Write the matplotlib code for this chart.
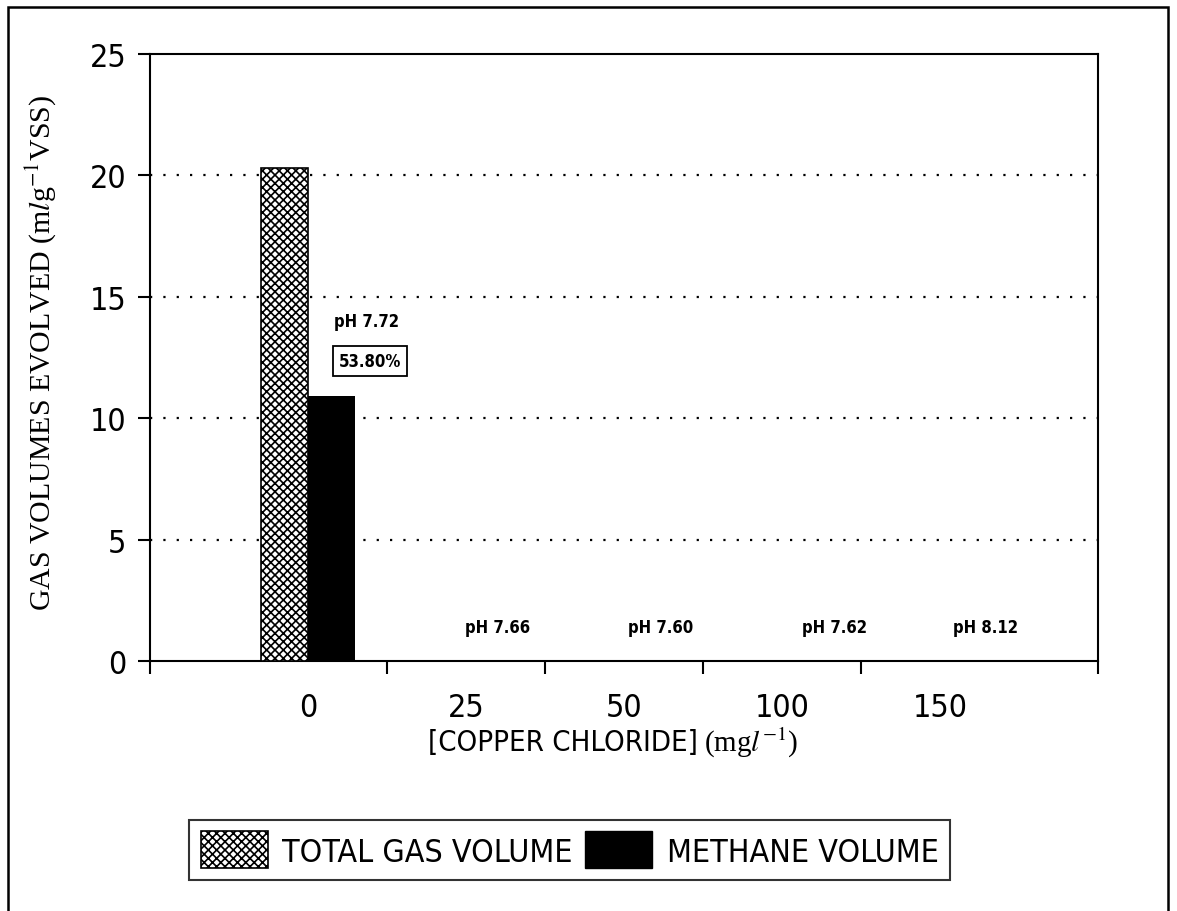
import numpy as np
import matplotlib
matplotlib.use('Agg')
import matplotlib.pyplot as plt
from matplotlib.patches import Rectangle, Patch
from matplotlib import font_manager

# data
conc_labels = ['0', '25', '50', '100', '150']
total_gas = [20.3, 0, 0, 0, 0]
methane = [10.92, 0, 0, 0, 0]
ph_labels = ['pH 7.72', 'pH 7.66', 'pH 7.60', 'pH 7.62', 'pH 8.12']
methane_pct = '53.80%'

plt.rcParams['hatch.linewidth'] = 1.2
plt.rcParams['mathtext.fontset'] = 'stix'
serif = ['Liberation Serif', 'DejaVu Serif']

def nprop(size, weight='normal'):
    # condensed sans, close to the narrow face of the original
    return font_manager.FontProperties(family='DejaVu Sans', stretch='condensed', size=size, weight=weight)

fig = plt.figure(figsize=(11.77, 9.12), dpi=100)
ax = fig.add_axes([0.1274, 0.2741, 0.8055, 0.6656])

x = np.arange(len(conc_labels))
w = 0.30
ax.bar(x[:1] - w / 2, total_gas[:1], w, facecolor='white', edgecolor='black',
       hatch='xxxx', linewidth=1.2, zorder=3)
ax.bar(x[:1] + w / 2, methane[:1], w, color='black', zorder=3)

ax.set_xlim(-1, 5)
ax.set_ylim(0, 25)
ax.set_yticks(np.arange(0, 26, 5))
ax.set_yticklabels([str(v) for v in range(0, 26, 5)], fontproperties=nprop(23))
ax.set_xticks([-1, 0.5, 1.5, 2.5, 3.5, 5])
ax.set_xticklabels([])
ax.set_xticks(x, minor=True)
ax.set_xticklabels(conc_labels, minor=True, fontproperties=nprop(23))
ax.tick_params(axis='x', which='minor', length=0, pad=22)
ax.tick_params(axis='both', which='major', length=9, width=1.5, direction='out')
ax.tick_params(axis='y', pad=8)
for s in ax.spines.values():
    s.set_linewidth(1.5)

for yv in [5, 10, 15, 20]:
    ax.axhline(yv, color='black', linestyle=(0, (1, 5)), linewidth=1.6, zorder=1)

# pH annotations
ph_x = [0.37, 1.20, 2.23, 3.33, 4.29]
ph_y = [14.0, 1.4, 1.4, 1.4, 1.4]
for px, py, lab in zip(ph_x, ph_y, ph_labels):
    ax.text(px, py, lab, ha='center', va='center', fontproperties=nprop(12, 'bold'))
ax.text(0.39, 12.35, methane_pct, ha='center', va='center',
        fontproperties=nprop(12, 'bold'),
        bbox=dict(boxstyle='square,pad=0.35', facecolor='white', edgecolor='black', linewidth=1.3))

# axis labels
ax.set_ylabel(r'GAS VOLUMES EVOLVED (m$\mathit{l}$g$^{\mathrm{-1}}$VSS)',
              family=serif, fontsize=21.5)
ax.yaxis.set_label_coords(-0.097, 0.51)
fig.text(0.593, 0.185, '[COPPER CHLORIDE]', ha='right', va='center',
         fontproperties=nprop(21))
fig.text(0.598, 0.185, r'(mg$\mathit{l}^{\mathrm{-1}}$)', ha='left', va='center',
         family=serif, fontsize=21)

# legend
handles = [Patch(facecolor='white', edgecolor='black', hatch='xxxx', linewidth=1.2),
           Patch(facecolor='black', edgecolor='black')]
leg = fig.legend(handles, ['TOTAL GAS VOLUME', 'METHANE VOLUME'], ncol=2,
                 loc='center', bbox_to_anchor=(0.484, 0.067),
                 prop=nprop(23), fancybox=False,
                 edgecolor='black', handlelength=2.1, handleheight=1.4,
                 columnspacing=0.4, handletextpad=0.45, borderpad=0.35,
                 borderaxespad=0.3)
leg.get_frame().set_linewidth(1.5)

# outer frame
fig.add_artist(Rectangle((8 / 1177, -0.02), 1160 / 1177, 1.02 - 8 / 912,
                         transform=fig.transFigure, fill=False,
                         edgecolor='black', linewidth=1.8))

fig.savefig('out.png', dpi=100)
